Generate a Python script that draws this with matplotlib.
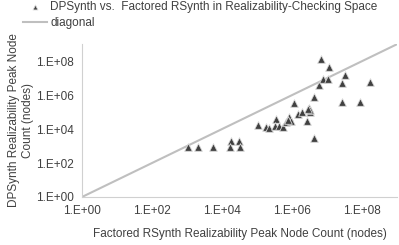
import math
import matplotlib
matplotlib.use("Agg")
import matplotlib.pyplot as plt
from matplotlib.ticker import FuncFormatter, FixedLocator

plt.rcParams['font.family'] = ['Liberation Sans', 'DejaVu Sans']

# log10 of peak node counts
factored_log = [3.03, 3.32, 3.73, 4.26, 4.47, 4.24, 4.52, 5.03, 5.24, 5.33,
                5.53, 5.52, 5.63, 5.73, 5.83, 5.90, 5.96, 6.04, 6.16, 6.29,
                6.43, 6.48, 6.52, 6.63, 6.62, 6.78, 6.89, 7.01, 6.83, 7.05,
                7.42, 7.50, 7.41, 7.95, 8.21, 5.87, 6.50, 6.45]
dpsynth_log = [2.96, 2.96, 2.96, 3.31, 3.31, 2.96, 2.96, 4.22, 4.10, 4.04,
               4.57, 4.16, 4.16, 4.10, 4.41, 4.69, 4.49, 5.51, 4.86, 5.00,
               4.49, 5.25, 5.00, 5.88, 3.49, 6.59, 6.92, 6.96, 8.10, 7.67,
               6.73, 7.16, 5.57, 5.57, 6.78, 4.55, 5.10, 5.15]
factored = [10 ** v for v in factored_log]
dpsynth = [10 ** v for v in dpsynth_log]
diag = [1, 1e9]
tick_vals = [1, 1e2, 1e4, 1e6, 1e8]

fig = plt.figure(figsize=(3.99, 2.45), dpi=100)
ax = fig.add_axes([0.2055, 0.196, 0.79, 0.624])

ax.plot(diag, diag, color='#bfbfbf', lw=1.5, label='diagonal', zorder=1)
ax.scatter(factored, dpsynth, marker='^', s=30, color='#404040',
           edgecolors='#d9d9d9', linewidths=0.6, zorder=2,
           label='DPSynth vs.  Factored RSynth in Realizability-Checking Space')

ax.set_xscale('log')
ax.set_yscale('log')
ax.set_xlim(1, 1e9)
ax.set_ylim(1, 1e9)
fmt = FuncFormatter(lambda v, p: '1.E+%02d' % round(math.log10(v)))
ax.xaxis.set_major_locator(FixedLocator(tick_vals))
ax.yaxis.set_major_locator(FixedLocator(tick_vals))
ax.xaxis.set_minor_locator(FixedLocator([]))
ax.yaxis.set_minor_locator(FixedLocator([]))
ax.xaxis.set_major_formatter(fmt)
ax.yaxis.set_major_formatter(fmt)
ax.tick_params(length=0, labelsize=8.5, colors='#404040', pad=6)

for s in ['top', 'right']:
    ax.spines[s].set_visible(False)
ax.spines['left'].set_color('#d0d0d0')
ax.spines['bottom'].set_color('#d0d0d0')

ax.set_xlabel('Factored RSynth Realizability Peak Node Count (nodes)',
              fontsize=8.5, color='#404040', labelpad=8)
ax.set_ylabel('DPSynth Realizability Peak Node\nCount (nodes)',
              fontsize=8.5, color='#404040', labelpad=1, linespacing=1.3)

h, l = ax.get_legend_handles_labels()
fig.legend(h[::-1], l[::-1], loc='upper left', bbox_to_anchor=(0.055, 1.0),
           frameon=False, fontsize=8.5, labelcolor='#404040',
           handlelength=2.0, handletextpad=0.3, labelspacing=0.3,
           borderaxespad=0, borderpad=0.1, markerscale=0.65)

fig.savefig('out.png', dpi=100)
